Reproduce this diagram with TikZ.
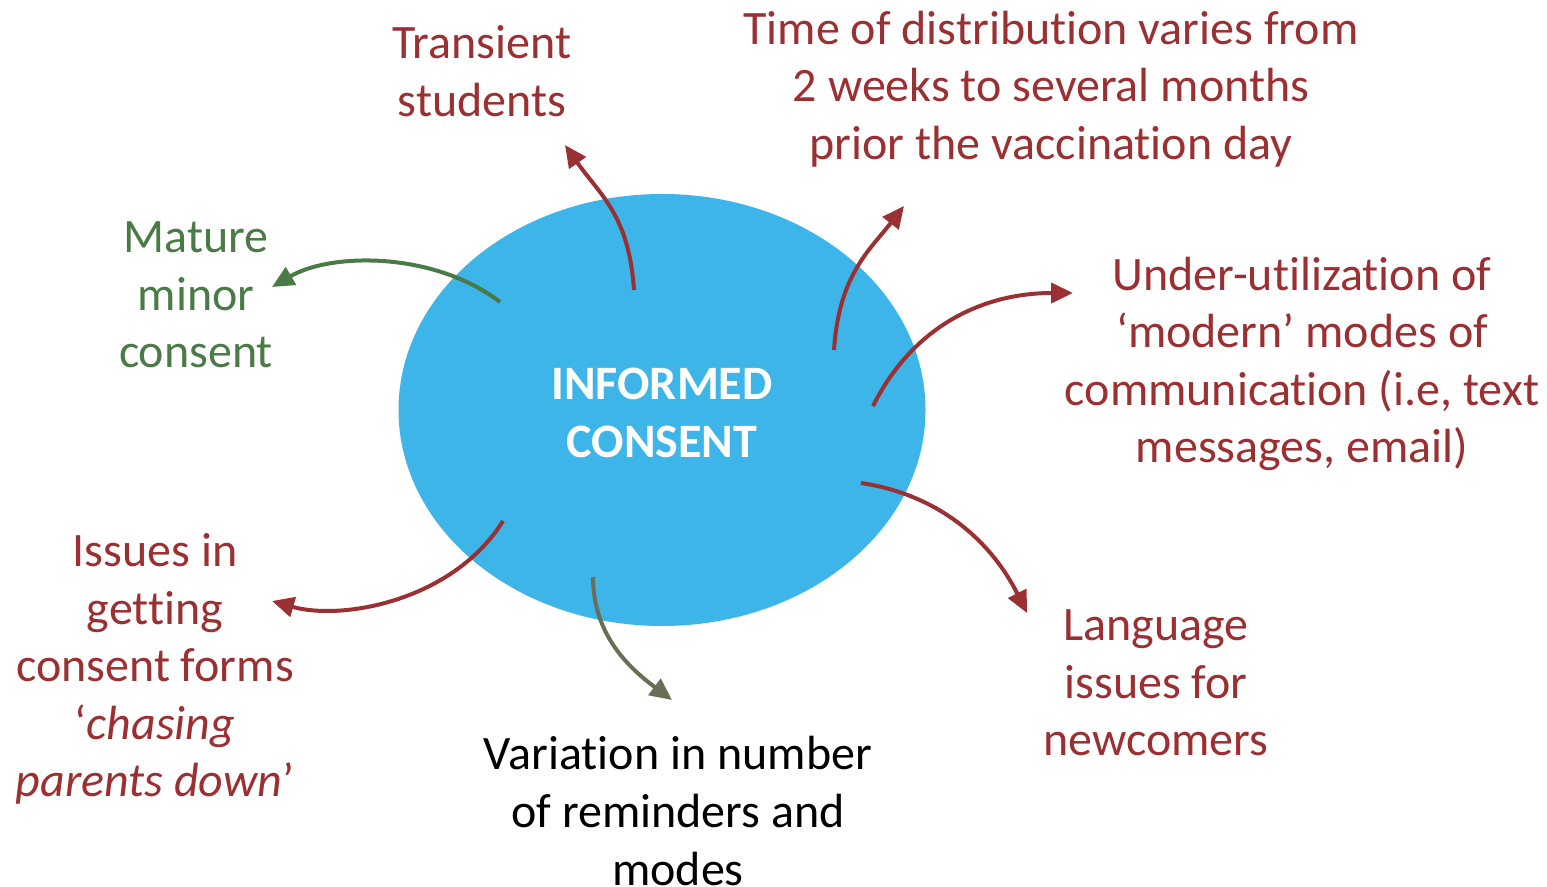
\documentclass[tikz,border=0pt]{standalone}
\usepackage{fontspec}
\setmainfont{Carlito}[Ligatures=NoCommon]
\usetikzlibrary{arrows.meta,shapes.geometric}
\definecolor{cred}{HTML}{9B3033}
\definecolor{cgreen}{HTML}{4A7A45}
\definecolor{colive}{HTML}{6B6E55}
\definecolor{cblue}{HTML}{3DB5E8}
\begin{document}
\begin{tikzpicture}[x=0.5pt,y=-0.5pt,
  lbl/.style={align=center,inner sep=0pt,font=\fontsize{24}{28.8}\selectfont},
  arr/.style={line width=2pt,-{Triangle[length=11pt,width=10pt]}},
  ]
\useasboundingbox (0,0) rectangle (1547,887);
\fill[cblue] (662,410) ellipse [x radius=263.5, y radius=216];
\node[align=center,inner sep=0pt,text=white,font=\fontsize{24}{28.8}\selectfont\bfseries] (ic) at (662,413) {INFORMED\\CONSENT};
\node[lbl,text=cred] (tr) at (482,71) {Transient\\students};
\node[lbl,text=cred] (td) at (1051,89) {Time of distribution varies from\\2 weeks to several months\\prior the vaccination day};
\node[lbl,text=cgreen] (mm) at (196,295) {Mature\\minor\\consent};
\node[lbl,text=cred] (uu) at (1302,364) {Under-utilization of\\‘modern’ modes of\\communication (i.e, text\\messages, email)};
\node[lbl,text=cred] (is) at (155,669) {Issues in\\getting\\consent forms\\‘\textit{chasing}\\\textit{parents down}’};
\node[lbl,text=black] (va) at (678,811) {Variation in number\\of reminders and\\modes};
\node[lbl,text=cred] (la) at (1156,683) {Language\\issues for\\newcomers};
% connector end points
\coordinate (s1) at (634,290); \coordinate (e1) at (565,145);
\coordinate (s2) at (834,350); \coordinate (e2) at (904,206);
\coordinate (s3) at (500,302); \coordinate (e3) at (272,287);
\coordinate (s4) at (873,406); \coordinate (e4) at (1073,293);
\coordinate (s5) at (861,483); \coordinate (e5) at (1027,613);
\coordinate (s6) at (593,577); \coordinate (e6) at (672,700);
\coordinate (s7) at (503,521); \coordinate (e7) at (272,601);
\draw[arr,cred] (s1) .. controls +(-5,-75) and +(35,50) .. (e1);
\draw[arr,cred] (s2) .. controls +(5,-75) and +(-35,45) .. (e2);
\draw[arr,cgreen] (s3) .. controls +(-65,-50) and +(60,-35) .. (e3);
\draw[arr,cred] (s4) .. controls +(40,-80) and +(-90,0) .. (e4);
\draw[arr,cred] (s5) .. controls +(80,12) and +(-35,-70) .. (e5);
\draw[arr,colive] (s6) .. controls +(0,60) and +(-40,-30) .. (e6);
\draw[arr,cred] (s7) .. controls +(-50,80) and +(70,20) .. (e7);
\end{tikzpicture}
\end{document}
